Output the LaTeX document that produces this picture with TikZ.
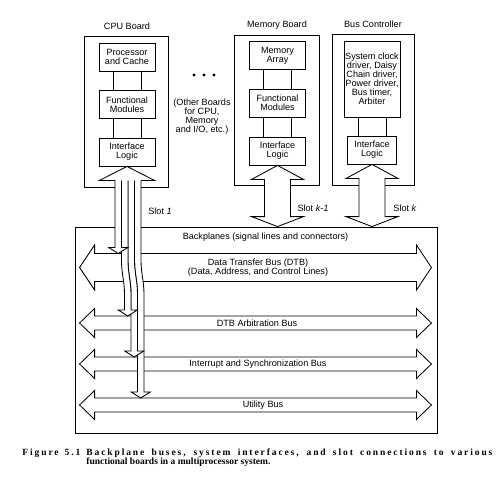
\documentclass[tikz,border=0pt]{standalone}
\usepackage{fontspec}
\setmainfont{Liberation Serif}
\setsansfont{Liberation Sans}
\usetikzlibrary{calc}

% slot connector: heads at both ends
\newcommand{\slotarrow}[2]{%
  \filldraw[fill=white] let \p1=(#1), \p2=(#2) in
    (\x1,\y1) -- (\x1+26pt,\y1-14pt) -- (\x1+13pt,\y1-14pt) -- (\x1+13pt,\y2+10pt)
    -- (\x1+26pt,\y2+10pt) -- (\x1,\y2) -- (\x1-26pt,\y2+10pt) -- (\x1-13pt,\y2+10pt)
    -- (\x1-13pt,\y1-14pt) -- (\x1-26pt,\y1-14pt) -- cycle;}

% bus running across the backplane
\newcommand{\busarrow}[3]{%
  \draw let \p1=(#1), \p2=(bp.west), \p3=(bp.east) in
    (\x2+5pt,\y1) -- (\x2+20pt,\y1+#3) -- (\x2+20pt,\y1+#2) -- (\x3-21pt,\y1+#2)
    -- (\x3-21pt,\y1+#3) -- (\x3-6pt,\y1) -- (\x3-21pt,\y1-#3) -- (\x3-21pt,\y1-#2)
    -- (\x2+20pt,\y1-#2) -- (\x2+20pt,\y1-#3) -- cycle;}

% one line of the CPU slot bundle
\newcommand{\cpustrip}[4]{%
  \filldraw[fill=white] let \p1=(ci.south), \p2=(#4) in
    (\x1+#1,\y1-14pt) -- (\x1+#1,\y1-94pt) to[out=-90,in=90] (\x1+#1+#3,\y1-128pt)
    -- (\x1+#1+#3,\y2+6pt) -- (\x2-9.5pt,\y2+6pt) -- (\x2,\y2) -- (\x2+9.5pt,\y2+6pt)
    -- (\x1+#2+#3,\y2+6pt) -- (\x1+#2+#3,\y1-128pt) to[out=90,in=-90] (\x1+#2,\y1-94pt)
    -- (\x1+#2,\y1-14pt);}

\begin{document}
\begin{tikzpicture}[
    x=1pt, y=-1pt,
    line width=0.85pt,
    font=\sffamily\fontsize{9.1}{9}\selectfont,
    board/.style={rectangle, draw, inner sep=0pt},
    unit/.style={rectangle, draw, inner sep=0pt, minimum width=56pt, minimum height=28pt, align=center},
    boardname/.style={inner sep=0pt},
    buslbl/.style={inner sep=0pt, align=center},
    capt/.style={inner sep=0pt, font=\rmfamily\bfseries\fontsize{9.5}{10}\selectfont}
  ]
  \useasboundingbox (0,0) rectangle (500,492);

  % boards
  \node[board, minimum width=84pt, minimum height=151pt] (cb) at (126,111.5) {};
  \node[board, minimum width=85pt, minimum height=150pt] (mb) at (277,110) {};
  \node[board, minimum width=82pt, minimum height=151pt] (bc) at (373,109.5) {};
  \node[boardname] (cbt) at (127,26) {CPU Board};
  \node[boardname] (mbt) at (277,25) {Memory Board};
  \node[boardname] (bct) at (373,24) {Bus Controller};

  \node[unit] (cp) at (127,57) {Processor\\and Cache};
  \node[unit] (cf) at (127,104.5) {Functional\\Modules};
  \node[unit] (ci) at (127,152) {Interface\\Logic};

  \node[unit] (ma) at (277.5,55.5) {Memory\\Array};
  \node[unit] (mf) at (277.5,103) {Functional\\Modules};
  \node[unit] (mi) at (277.5,151) {Interface\\Logic};

  \node[unit, minimum height=76pt] (bs) at (372,79) {System clock\\driver, Daisy\\Chain driver,\\Power driver,\\Bus timer,\\Arbiter};
  \node[unit, minimum width=49pt] (bi) at (372,150) {Interface\\Logic};

  \foreach \a/\b in {cp/cf, cf/ci, ma/mf, mf/mi, bs/bi} {
    \draw ([xshift=-14pt]\a.south) -- ([xshift=-14pt]\b.north);
    \draw ([xshift=14pt]\a.south) -- ([xshift=14pt]\b.north);
  }

  \foreach \i in {0,1,2}
    \fill (194+10*\i,75) circle (1.7pt);
  \node[buslbl] (ob) at (202,117) {(Other Boards\\for CPU,\\Memory\\and I/O, etc.)};

  % backplane and buses
  \node[board, minimum width=362pt, minimum height=206pt] (bp) at (256,330) {};
  \node[buslbl] (bpl) at (265.5,237) {Backplanes (signal lines and connectors)};

  \node[buslbl] (dtb) at (258,267.5) {Data Transfer Bus (DTB)\\(Data, Address, and Control Lines)};
  \node[buslbl] (arb) at (257,323) {DTB Arbitration Bus};
  \node[buslbl] (int) at (258,364) {Interrupt and Synchronization Bus};
  \node[buslbl] (util) at (263,405) {Utility Bus};
  \busarrow{dtb}{14pt}{22.5pt}
  \busarrow{arb}{7pt}{14.5pt}
  \busarrow{int}{7pt}{14.5pt}
  \busarrow{util}{7pt}{14.5pt}

  % slots
  \slotarrow{mi.south}{mi.south |- bp.north}
  \slotarrow{bi.south}{bi.south |- bp.north}

  \coordinate (dtbin) at (118.25,253.5);
  \coordinate (arbin) at (127.75,316);
  \coordinate (intin) at (134.25,357);
  \coordinate (utilin) at (140.75,398);
  \cpustrip{7.5pt}{14pt}{3pt}{utilin}
  \cpustrip{1pt}{7.5pt}{3pt}{intin}
  \cpustrip{-5.5pt}{1pt}{3pt}{arbin}
  \filldraw[fill=white] let \p1=(ci.south), \p2=(dtbin) in
    (\x1-12pt,\y1-14pt) -- (\x1-12pt,\y2+6pt) -- (\x2-9.5pt,\y2+6pt) -- (\x2,\y2)
    -- (\x2+9.5pt,\y2+6pt) -- (\x1-5.5pt,\y2+6pt) -- (\x1-5.5pt,\y1-14pt);
  \filldraw[fill=white] let \p1=(ci.south) in
    (\x1-12pt,\y1-14pt) -- (\x1-27.5pt,\y1-14pt) -- (\x1,\y1) -- (\x1+27.5pt,\y1-14pt) -- (\x1+14pt,\y1-14pt);

  \node[boardname] (sl1) at (160,211) {Slot \textit{1}};
  \node[boardname] (slk1) at (313,208) {Slot \textit{k-1}};
  \node[boardname] (slk) at (405,208) {Slot \textit{k}};

  % caption
  \node[capt, anchor=base west] (fig) at (22,455.5) {\makebox[58pt][s]{\addfontfeature{LetterSpace=20}Figure 5.1}};
  \node[capt, anchor=base west] (cap1) at (86,455.5) {\makebox[406pt][s]{\addfontfeature{LetterSpace=20}Backplane buses, system interfaces, and slot connections to various}};
  \node[capt, anchor=base west] (cap2) at (86,464.5) {functional boards in a multiprocessor system.};
\end{tikzpicture}
\end{document}
